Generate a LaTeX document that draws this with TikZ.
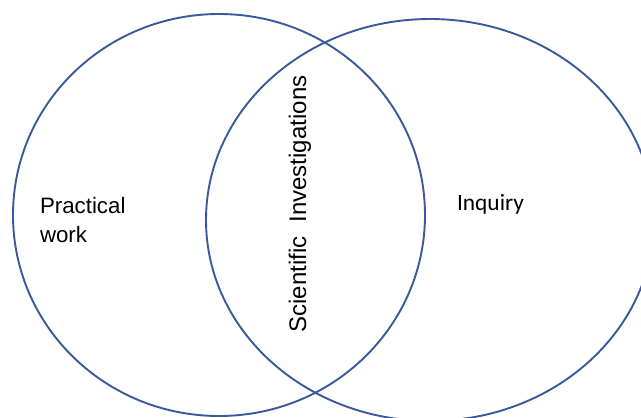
\documentclass[tikz,border=0pt]{standalone}
\usepackage{fontspec}
\setmainfont{Liberation Sans}
\newfontfamily\calfont{Carlito}
\usetikzlibrary{shapes.geometric}
\definecolor{ringblue}{RGB}{56,89,156}
\tikzset{
  ring/.style={ellipse, draw=ringblue, line width=1.9pt, inner sep=0pt, outer sep=0pt},
  lbl/.style={inner sep=0pt, outer sep=0pt, text=black, font=\fontsize{22.3}{28.5}\selectfont}
}
\begin{document}
\begin{tikzpicture}[x=1pt,y=-1pt]
\useasboundingbox (0,0) rectangle (641,418);
\node[ring, minimum width=412pt, minimum height=402pt] (left) at (219,215) {};
\node[ring, minimum width=448pt, minimum height=402pt] (right) at (430,220) {};
\node[lbl, anchor=north west, align=left] (pw) at (40,197.5) {Practical\\work};
\node[lbl, anchor=base west, font=\calfont\fontsize{23.4}{28}\selectfont] (inq) at (457,210) {Inquiry};
\node[lbl, anchor=base, rotate=90, font=\fontsize{24}{28}\selectfont] (sci) at (306,204) {Scientific\hspace{14pt}Investigations};
\end{tikzpicture}
\end{document}
